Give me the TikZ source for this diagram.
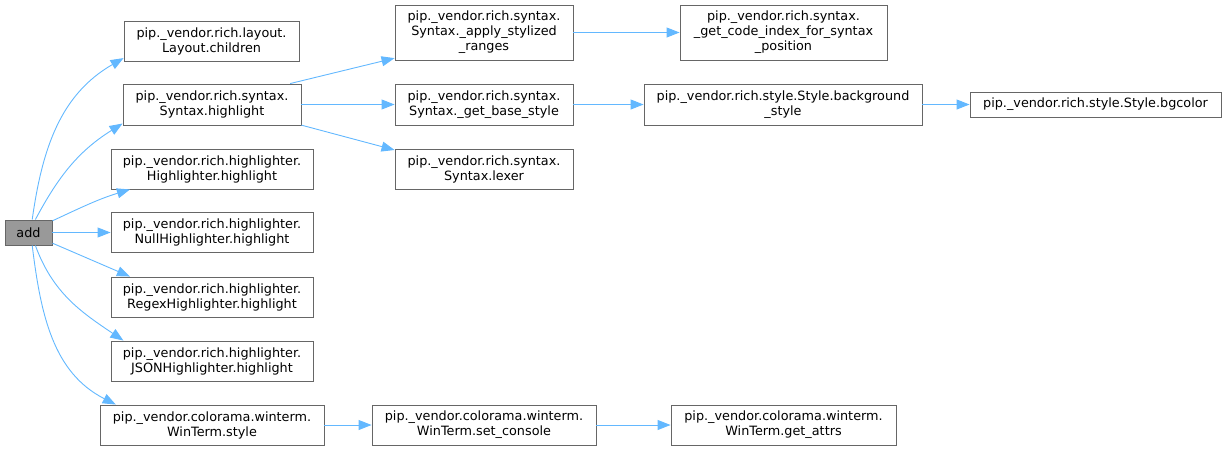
\documentclass[tikz,border=0pt]{standalone}
\usepackage{fontspec}
\setmainfont{DejaVu Sans}
\usetikzlibrary{arrows.meta}
\definecolor{edgeblue}{HTML}{63B8FF}
\definecolor{boxgray}{HTML}{666666}
\definecolor{addfill}{HTML}{999999}
\begin{document}
\begin{tikzpicture}[x=1pt,y=1pt,
  box/.style={draw=boxgray, fill=white, line width=0.9pt, align=center, inner sep=0pt,
    font=\fontsize{12.8}{15}\selectfont},
  call/.style={draw=edgeblue, line width=0.9pt, -{Triangle[length=13pt,width=10pt]}}]
\useasboundingbox (0,0) rectangle (1227,-450);
\node[box, fill=addfill, minimum width=47pt, minimum height=25pt] (add) at (28.5,-232.5) {add};
\node[box, minimum width=175pt, minimum height=40pt] (children) at (211.5,-41) {pip.\_vendor.rich.layout.\\Layout.children};
\node[box, minimum width=178pt, minimum height=41pt] (shl) at (212,-104.5) {pip.\_vendor.rich.syntax.\\Syntax.highlight};
\node[box, minimum width=202pt, minimum height=40pt] (hl) at (212,-169) {pip.\_vendor.rich.highlighter.\\Highlighter.highlight};
\node[box, minimum width=202pt, minimum height=40pt] (null) at (212,-232.5) {pip.\_vendor.rich.highlighter.\\NullHighlighter.highlight};
\node[box, minimum width=202pt, minimum height=40pt] (regex) at (212,-297) {pip.\_vendor.rich.highlighter.\\RegexHighlighter.highlight};
\node[box, minimum width=202pt, minimum height=40pt] (json) at (212,-361) {pip.\_vendor.rich.highlighter.\\JSONHighlighter.highlight};
\node[box, minimum width=224pt, minimum height=40pt] (wstyle) at (212,-425) {pip.\_vendor.colorama.winterm.\\WinTerm.style};
\node[box, minimum width=178pt, minimum height=55pt] (apply) at (484,-32.5) {pip.\_vendor.rich.syntax.\\Syntax.\_apply\_stylized\\\_ranges};
\node[box, minimum width=207pt, minimum height=55pt] (codeidx) at (783.5,-32.5) {pip.\_vendor.rich.syntax.\\\_get\_code\_index\_for\_syntax\\\_position};
\node[box, minimum width=178pt, minimum height=41pt] (base) at (484,-104.5) {pip.\_vendor.rich.syntax.\\Syntax.\_get\_base\_style};
\node[box, minimum width=278pt, minimum height=41pt] (bgstyle) at (783,-104.5) {pip.\_vendor.rich.style.Style.background\\\_style};
\node[box, minimum width=251pt, minimum height=25pt] (bgcolor) at (1095.5,-104.5) {pip.\_vendor.rich.style.Style.bgcolor};
\node[box, minimum width=178pt, minimum height=40pt] (lexer) at (484,-169) {pip.\_vendor.rich.syntax.\\Syntax.lexer};
\node[box, minimum width=224pt, minimum height=40pt] (setcon) at (484,-425) {pip.\_vendor.colorama.winterm.\\WinTerm.set\_console};
\node[box, minimum width=225pt, minimum height=40pt] (getattr) at (783.5,-425) {pip.\_vendor.colorama.winterm.\\WinTerm.get\_attrs};
% edges from add
\draw[call] (add.74) to[out=82,in=210] (children.191);
\draw[call] (add.62) to[out=62,in=212] (shl.192);
\draw[call] (add.26) to[out=25,in=197] (hl.194);
\draw[call] (add.east) -- (null.west);
\draw[call] (add.-24) -- (regex.166);
\draw[call] (add.-62) to[out=-70,in=146] (json.167);
\draw[call] (add.-74) to[out=-83,in=153] (wstyle.168);
% other edges
\draw[call] (shl.15) -- (apply.196);
\draw[call] (shl.east) -- (base.west);
\draw[call] (shl.-13) -- (lexer.168);
\draw[call] (apply.east) -- (codeidx.west);
\draw[call] (base.east) -- (bgstyle.west);
\draw[call] (bgstyle.east) -- (bgcolor.west);
\draw[call] (wstyle.east) -- (setcon.west);
\draw[call] (setcon.east) -- (getattr.west);
\end{tikzpicture}
\end{document}
